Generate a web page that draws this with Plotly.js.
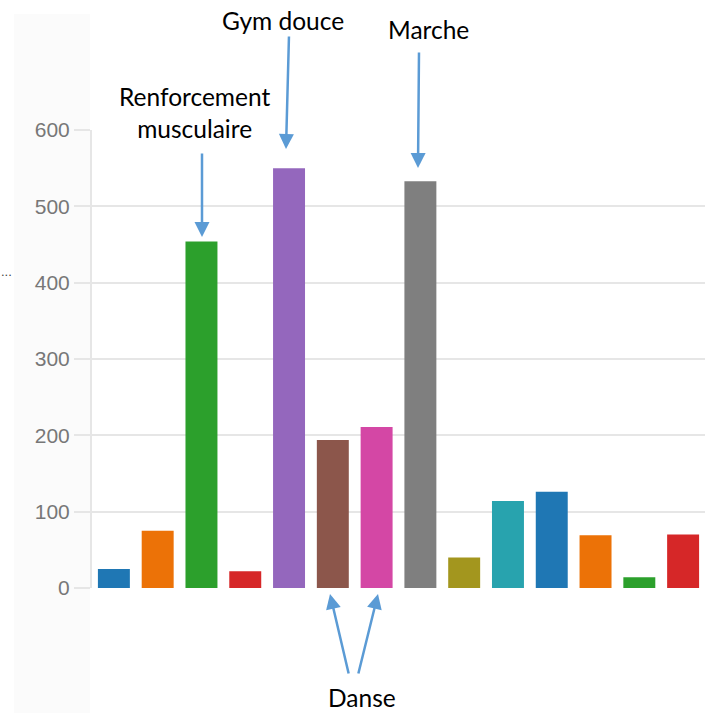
<!DOCTYPE html>
<html>
<head>
<meta charset="utf-8">
<script src="https://cdn.plot.ly/plotly-3.0.1.min.js"></script>
<style>
  html, body { margin: 0; padding: 0; background: #ffffff; }
  #chart { width: 715px; height: 713px; }
</style>
</head>
<body>
<div id="chart"></div>
<script>
// ---- data ----
const categories = ['C1','C2','C3','C4','C5','C6','C7','C8','C9','C10','C11','C12','C13','C14'];
const values = [25, 75, 454, 22, 550, 194, 211, 533, 40, 114, 126, 69, 14, 70];
const barColors = ['#1f77b4','#ec7207','#2ca02c','#d62728','#9467bd','#8c564b','#d447a5',
                   '#7f7f7f','#a3961e','#28a3ae','#1f77b4','#ec7207','#2ca02c','#d62728'];
const yTicks = [0, 100, 200, 300, 400, 500, 600];
const labelTexts = ['Renforcement<br>musculaire', 'Gym douce', 'Marche', 'Danse'];

// ---- layout geometry (pixels) ----
const W = 715, H = 713;
const M = {l: 92, r: 10, t: 130, b: 125};
const PW = W - M.l - M.r, PH = H - M.t - M.b;
const px = x => (x - M.l) / PW;
const py = y => (H - M.b - y) / PH;

const arrowColor = '#5b9bd5';
function arrow(tailX, tailY, tipX, tipY) {
  return {
    xref: 'paper', yref: 'paper', x: px(tipX), y: py(tipY),
    axref: 'pixel', ayref: 'pixel', ax: tailX - tipX, ay: tailY - tipY,
    text: '', showarrow: true, arrowhead: 2, arrowsize: 1.2, arrowwidth: 2.5,
    arrowcolor: arrowColor, standoff: 0, startstandoff: 0
  };
}
const labelFont = {family: 'Lato, "Open Sans", sans-serif', size: 24.5, color: '#000000'};
function label(text, cx, cy) {
  return {
    xref: 'paper', yref: 'paper', x: px(cx), y: py(cy),
    xanchor: 'center', yanchor: 'middle', text: text, showarrow: false,
    font: labelFont, align: 'center'
  };
}

const trace = {
  type: 'bar',
  x: categories,
  y: values,
  marker: {color: barColors},
  hoverinfo: 'skip'
};

const layout = {
  width: W, height: H,
  margin: M,
  paper_bgcolor: '#ffffff',
  plot_bgcolor: 'rgba(0,0,0,0)',
  bargap: 0.27,
  showlegend: false,
  xaxis: {
    type: 'category', showticklabels: false, showgrid: false, zeroline: false,
    showline: false, ticks: '', range: [-0.5, categories.length - 0.5]
  },
  yaxis: {
    range: [0, 600], tickmode: 'array', tickvals: yTicks, ticktext: yTicks.map(String),
    showgrid: true, gridcolor: '#e6e6e6', gridwidth: 2,
    zeroline: false,
    showline: true, linecolor: '#e6e6e6', linewidth: 2,
    ticks: 'outside', ticklen: 16, tickwidth: 2, tickcolor: '#e6e6e6',
    tickfont: {family: '"Liberation Sans", Arial, sans-serif', size: 21, color: '#777777'}
  },
  shapes: [
    {type: 'rect', xref: 'paper', yref: 'paper', layer: 'below',
     x0: px(14), x1: px(90), y0: py(713), y1: py(14),
     fillcolor: '#fbfbfb', line: {width: 0}}
  ],
  annotations: [
    label(labelTexts[0], 194, 113),
    label(labelTexts[1], 283, 20),
    label(labelTexts[2], 428, 29),
    label(labelTexts[3], 362, 697),
    arrow(202, 152, 202, 237),
    arrow(289, 35, 286, 149),
    arrow(419, 51, 418, 168),
    arrow(349, 675, 330, 594),
    arrow(358, 675, 378, 594),
    {xref: 'paper', yref: 'paper', x: px(-1), y: py(271), xanchor: 'left', yanchor: 'middle',
     text: '...', showarrow: false, font: {family: 'Liberation Sans, Arial', size: 13, color: '#444444'}}
  ]
};

Plotly.newPlot('chart', [trace], layout, {displayModeBar: false, staticPlot: true});
</script>
</body>
</html>
